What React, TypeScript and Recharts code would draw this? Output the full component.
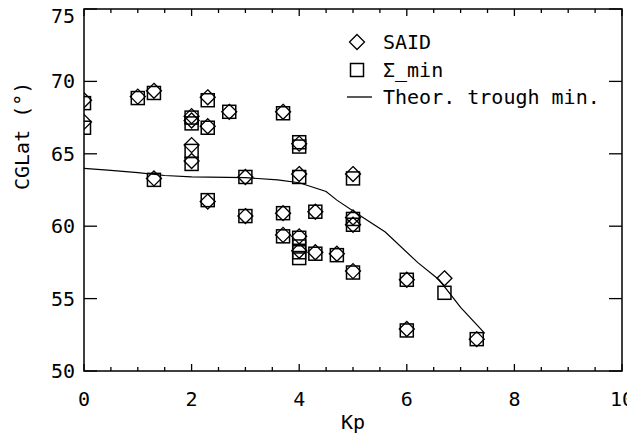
import {
  Label,
  Legend,
  ReferenceArea,
  Scatter,
  ScatterChart,
  XAxis,
  YAxis,
} from "recharts";

// SAID (diamonds)
const saidKp = [0, 0, 1, 1.3, 1.3, 2, 2, 2, 2, 2.3, 2.3, 2.3, 2.7, 3, 3, 3.7, 3.7, 3.7, 4, 4, 4, 4, 4.3, 4.3, 4.7, 5, 5, 5, 5, 6, 6, 6.7, 7.3];
const saidLat = [68.7, 67.2, 68.95, 69.35, 63.3, 67.6, 67.3, 65.6, 64.5, 68.9, 66.9, 61.7, 67.9, 63.4, 60.7, 67.9, 60.9, 59.4, 65.7, 63.6, 59.3, 58.3, 61.0, 58.2, 58.1, 63.6, 60.6, 60.1, 56.9, 56.3, 52.9, 56.4, 52.2];

// Sigma_min (squares)
const sigmaKp = [0, 0, 1, 1.3, 1.3, 2, 2, 2, 2, 2.3, 2.3, 2.3, 2.7, 3, 3, 3.7, 3.7, 3.7, 4, 4, 4, 4, 4, 4, 4, 4.3, 4.3, 4.7, 5, 5, 5, 5, 6, 6, 6.7, 7.3];
const sigmaLat = [68.5, 66.8, 68.85, 69.2, 63.2, 67.5, 67.1, 65.2, 64.3, 68.7, 66.8, 61.8, 67.9, 63.4, 60.7, 67.8, 60.9, 59.3, 65.8, 65.5, 63.4, 59.2, 58.6, 58.2, 57.8, 61.0, 58.1, 58.0, 63.3, 60.5, 60.1, 56.8, 56.3, 52.8, 55.4, 52.2];

// theoretical trough minimum
const troughKp = [0, 0.5, 1, 1.5, 2, 3, 3.6, 4, 4.5, 4.7, 5.1, 5.6, 6.2, 6.6, 7.0, 7.45];
const troughLat = [64.0, 63.85, 63.7, 63.5, 63.4, 63.35, 63.2, 63.0, 62.4, 61.8, 60.8, 59.6, 57.5, 56.3, 54.4, 52.6];

const xTicks = [0, 0.5, 1, 1.5, 2, 2.5, 3, 3.5, 4, 4.5, 5, 5.5, 6, 6.5, 7, 7.5, 8, 8.5, 9, 9.5, 10];
const xLabels = [0, 2, 4, 6, 8, 10];
const yTicks = [50, 55, 60, 65, 70, 75];
const seriesNames = ["SAID", "Σ_min", "Theor. trough min."];

const said = saidKp.map((kp, i) => ({ kp, lat: saidLat[i] }));
const sigma = sigmaKp.map((kp, i) => ({ kp, lat: sigmaLat[i] }));
const trough = troughKp.map((kp, i) => ({ kp, lat: troughLat[i] }));

const FONT = "'DejaVu Sans Mono', monospace";
const PLOT_TOP = 9;
const PLOT_RIGHT = 622;

const Diamond = ({ cx, cy }: any) => (
  <path
    d={`M${cx},${cy - 7.5}L${cx + 7.5},${cy}L${cx},${cy + 7.5}L${cx - 7.5},${cy}Z`}
    fill="none"
    stroke="#000"
    strokeWidth={1.3}
  />
);

const Square = ({ cx, cy }: any) => (
  <rect x={cx - 6.5} y={cy - 6.5} width={13} height={13} fill="none" stroke="#000" strokeWidth={1.5} />
);

const XTick = ({ x, y, payload }: any) => {
  const major = xLabels.includes(payload.value);
  const len = major ? 7 : 4;
  return (
    <g>
      <line x1={x} y1={y} x2={x} y2={y - len} stroke="#000" strokeWidth={1.3} />
      <line x1={x} y1={PLOT_TOP} x2={x} y2={PLOT_TOP + len} stroke="#000" strokeWidth={1.3} />
      {major && (
        <text x={x} y={y + 28} textAnchor="middle" dominantBaseline="central" fontSize={20} fontFamily={FONT} fill="#000">
          {payload.value}
        </text>
      )}
    </g>
  );
};

const YTick = ({ x, y, payload }: any) => (
  <g>
    <line x1={x} y1={y} x2={x + 13} y2={y} stroke="#000" strokeWidth={1.3} />
    <line x1={PLOT_RIGHT - 13} y1={y} x2={PLOT_RIGHT} y2={y} stroke="#000" strokeWidth={1.3} />
    <text x={x - 9} y={Math.max(y, 16)} textAnchor="end" dominantBaseline="central" fontSize={20} fontFamily={FONT} fill="#000">
      {payload.value}
    </text>
  </g>
);

const renderLegend = () => (
  <svg width={280} height={90}>
    <path d="M19,6.5L26.5,14L19,21.5L11.5,14Z" fill="none" stroke="#000" strokeWidth={1.3} />
    <rect x={12.5} y={35.5} width={13} height={13} fill="none" stroke="#000" strokeWidth={1.5} />
    <line x1={9} y1={69} x2={34} y2={69} stroke="#000" strokeWidth={1.3} />
    {seriesNames.map((name, i) => (
      <text key={name} x={45} y={14 + i * 27.5} dominantBaseline="central" fontSize={20} fontFamily={FONT} fill="#000">
        {name}
      </text>
    ))}
  </svg>
);

export default function App() {
  return (
    <div style={{ width: 635, height: 441, margin: -8, fontFamily: FONT }}>
      <ScatterChart
        width={635}
        height={441}
        margin={{ top: PLOT_TOP, right: 13, left: 0, bottom: 0 }}
        style={{ overflow: "visible" }}
      >
        <XAxis
          type="number"
          dataKey="kp"
          domain={[0, 10]}
          ticks={xTicks}
          interval={0}
          allowDataOverflow
          axisLine={false}
          tickLine={false}
          tickSize={0}
          tickMargin={0}
          height={70}
          tick={<XTick />}
        >
          <Label value="Kp" position="insideBottom" offset={12} fill="#000" fontSize={20} fontFamily={FONT} />
        </XAxis>
        <YAxis
          type="number"
          dataKey="lat"
          domain={[50, 75]}
          ticks={yTicks}
          interval={0}
          allowDataOverflow
          axisLine={false}
          tickLine={false}
          tickSize={0}
          tickMargin={0}
          width={84}
          tick={<YTick />}
        >
          <Label value="CGLat (°)" angle={-90} position="insideLeft" offset={22} fill="#000" fontSize={20} fontFamily={FONT} />
        </YAxis>
        <ReferenceArea x1={0} x2={10} y1={50} y2={75} fill="none" stroke="#000" strokeWidth={1.5} />
        <Legend
          content={renderLegend}
          layout="horizontal"
          verticalAlign="middle"
          align="center"
          wrapperStyle={{ left: 338, top: 28, width: 280 }}
        />
        <Scatter
          name={seriesNames[2]}
          data={trough}
          line={{ stroke: "#000", strokeWidth: 1.2 }}
          shape={() => <g />}
          isAnimationActive={false}
        />
        <Scatter name={seriesNames[0]} data={said} shape={<Diamond />} isAnimationActive={false} />
        <Scatter name={seriesNames[1]} data={sigma} shape={<Square />} isAnimationActive={false} />
      </ScatterChart>
    </div>
  );
}
